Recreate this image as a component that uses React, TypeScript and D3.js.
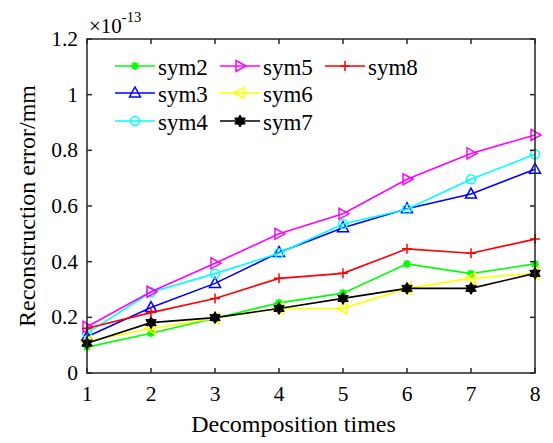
import React from "react";
import * as d3 from "d3";

const xs = [1, 2, 3, 4, 5, 6, 7, 8];
const yTicks = [0, 0.2, 0.4, 0.6, 0.8, 1, 1.2];
const yTickLabels = ["0", "0.2", "0.4", "0.6", "0.8", "1", "1.2"];

const sym2 = [0.093, 0.143, 0.197, 0.252, 0.287, 0.392, 0.357, 0.392];
const sym3 = [0.13, 0.235, 0.322, 0.433, 0.522, 0.59, 0.643, 0.732];
const sym4 = [0.143, 0.29, 0.357, 0.43, 0.535, 0.588, 0.696, 0.786];
const sym5 = [0.166, 0.292, 0.394, 0.5, 0.572, 0.696, 0.789, 0.855];
const sym6 = [0.113, 0.16, 0.197, 0.232, 0.232, 0.304, 0.34, 0.358];
const sym7 = [0.107, 0.181, 0.199, 0.232, 0.268, 0.304, 0.304, 0.358];
const sym8 = [0.161, 0.217, 0.268, 0.34, 0.358, 0.446, 0.43, 0.481];

const seriesNames = ["sym2", "sym3", "sym4", "sym5", "sym6", "sym7", "sym8"];
const seriesData = [sym2, sym3, sym4, sym5, sym6, sym7, sym8];
const seriesColors = ["#00ff00", "#0000ff", "#00ffff", "#ff00ff", "#ffff00", "#000000", "#ff0000"];
const seriesMarkers = ["asterisk", "triUp", "circle", "triRight", "triLeft", "hexagram", "plus"];

const W = 553, H = 443;
const left = 87, right = 535, top = 39, bottom = 373;
const FONT = "'Liberation Serif', 'Times New Roman', serif";
const AXC = "#262626";

function Marker({ type, x, y, color }: { type: string; x: number; y: number; color: string }) {
  const s = 5;
  switch (type) {
    case "circle":
      return <circle cx={x} cy={y} r={4.5} fill="none" stroke={color} strokeWidth={1.5} />;
    case "triUp":
      return <path d={`M${x},${y - 6}L${x + 5.5},${y + 4}L${x - 5.5},${y + 4}Z`} fill="none" stroke={color} strokeWidth={1.5} />;
    case "triRight":
      return <path d={`M${x + 6},${y}L${x - 4},${y - 5.5}L${x - 4},${y + 5.5}Z`} fill="none" stroke={color} strokeWidth={1.5} />;
    case "triLeft":
      return <path d={`M${x - 6},${y}L${x + 4},${y - 5.5}L${x + 4},${y + 5.5}Z`} fill="none" stroke={color} strokeWidth={1.5} />;
    case "plus":
      return <path d={`M${x - s},${y}H${x + s}M${x},${y - s}V${y + s}`} stroke={color} strokeWidth={1.5} />;
    case "asterisk": {
      return (
        <g>
          <circle cx={x} cy={y} r={3} fill={color} />
          <path d={`M${x - 4},${y}H${x + 4}M${x},${y - 4}V${y + 4}M${x - 3},${y - 3}L${x + 3},${y + 3}M${x - 3},${y + 3}L${x + 3},${y - 3}`} stroke={color} strokeWidth={1.5} />
        </g>
      );
    }
    case "hexagram": {
      const pts: string[] = [];
      for (let i = 0; i < 12; i++) {
        const r = i % 2 === 0 ? 6 : 3.5;
        const a = (Math.PI / 6) * i - Math.PI / 2;
        pts.push(`${x + r * Math.cos(a)},${y + r * Math.sin(a)}`);
      }
      return <polygon points={pts.join(" ")} fill={color} stroke={color} strokeWidth={1} />;
    }
    default:
      return null;
  }
}

export default function App() {
  const xScale = d3.scaleLinear().domain([1, 8]).range([left, right]);
  const yScale = d3.scaleLinear().domain([0, 1.2]).range([bottom, top]);
  const line = d3
    .line<number>()
    .x((_, i) => xScale(xs[i]))
    .y((d) => yScale(d));

  const legendPos = [
    [115, 66], [115, 93], [115, 121],
    [220, 66], [220, 93], [220, 121],
    [325, 66],
  ];

  return (
    <svg width={W} height={H} style={{ position: "absolute", left: 0, top: 0, background: "#fff" }} fontFamily={FONT}>
      <rect x={0} y={0} width={W} height={H} fill="#fff" />
      {seriesData.map((data, si) => (
        <g key={seriesNames[si]}>
          <path d={line(data) || ""} fill="none" stroke={seriesColors[si]} strokeWidth={1.6} />
          {data.map((v, i) => (
            <Marker key={i} type={seriesMarkers[si]} x={xScale(xs[i])} y={yScale(v)} color={seriesColors[si]} />
          ))}
        </g>
      ))}
      <rect x={left} y={top} width={right - left} height={bottom - top} fill="none" stroke={AXC} strokeWidth={1.5} />
      {xs.map((t) => (
        <g key={"x" + t}>
          <line x1={xScale(t)} x2={xScale(t)} y1={bottom} y2={bottom - 5} stroke={AXC} strokeWidth={1.5} />
          <line x1={xScale(t)} x2={xScale(t)} y1={top} y2={top + 5} stroke={AXC} strokeWidth={1.5} />
          <text x={xScale(t)} y={bottom + 28} fontSize={21.5} textAnchor="middle" fill="#000">
            {t}
          </text>
        </g>
      ))}
      {yTicks.map((t, i) => (
        <g key={"y" + t}>
          <line x1={left} x2={left + 5} y1={yScale(t)} y2={yScale(t)} stroke={AXC} strokeWidth={1.5} />
          <line x1={right} x2={right - 5} y1={yScale(t)} y2={yScale(t)} stroke={AXC} strokeWidth={1.5} />
          <text x={78} y={yScale(t) + 7} fontSize={21.5} textAnchor="end" fill="#000">
            {yTickLabels[i]}
          </text>
        </g>
      ))}
      <text x={89} y={33} fontSize={21} fill="#000">
        ×10
        <tspan dy={-11} fontSize={14.5}>-13</tspan>
      </text>
      <text x={293.5} y={432} fontSize={24} textAnchor="middle" fill="#000">
        Decomposition times
      </text>
      <text transform={`translate(35,${(top + bottom) / 2}) rotate(-90)`} fontSize={24} textAnchor="middle" fill="#000">
        Reconstruction error/mm
      </text>
      {seriesNames.map((name, si) => {
        const [lx, ly] = legendPos[si];
        return (
          <g key={"lg" + name}>
            <line x1={lx} x2={lx + 40} y1={ly} y2={ly} stroke={seriesColors[si]} strokeWidth={1.6} />
            <Marker type={seriesMarkers[si]} x={lx + 20} y={ly} color={seriesColors[si]} />
            <text x={lx + 43} y={ly + 9} fontSize={23} fill="#000">
              {name}
            </text>
          </g>
        );
      })}
    </svg>
  );
}
